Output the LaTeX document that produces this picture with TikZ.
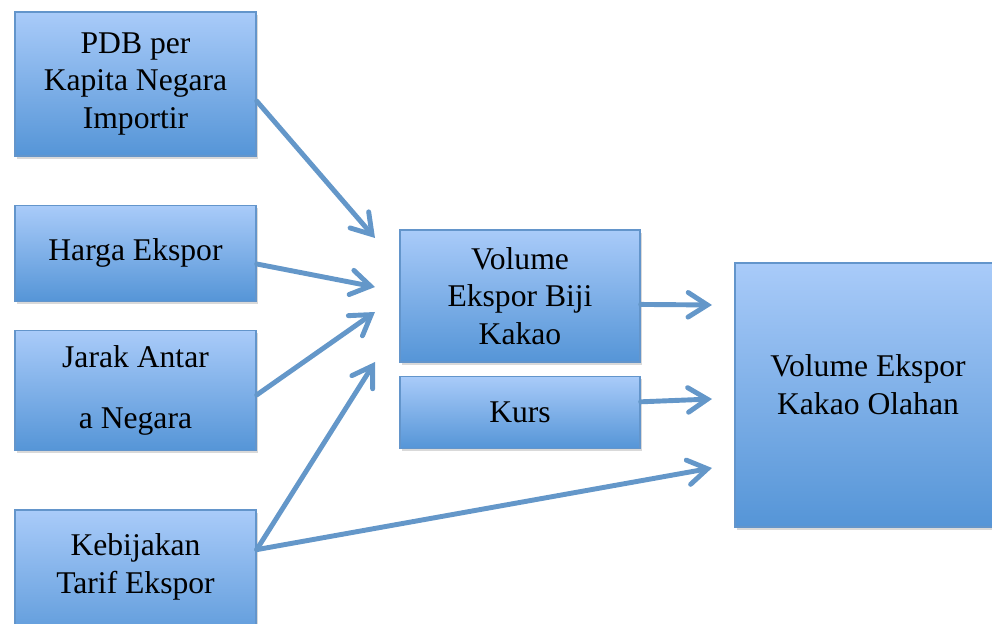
\documentclass[tikz,border=0pt]{standalone}
\usepackage{fontspec}
\setmainfont{Liberation Serif}
\usepackage{tikz}
\usetikzlibrary{positioning, shapes, arrows.meta, shadows}

\definecolor{boxtop}{HTML}{A9CBF9}
\definecolor{boxbot}{HTML}{5595D7}
\definecolor{boxline}{HTML}{6395CB}
\definecolor{arrowblue}{HTML}{6497C9}

\begin{document}
\begin{tikzpicture}[
    x=0.02cm, y=-0.02cm,
    factor/.style={rectangle, draw=boxline, line width=0.8pt, top color=boxtop, bottom color=boxbot,
        align=center, minimum width=4.82cm, font=\fontsize{18}{21.5}\selectfont,
        drop shadow={shadow xshift=1pt, shadow yshift=-1.5pt, opacity=0.3}},
    link/.style={draw=arrowblue, line width=2.8pt, line cap=round,
        -{Straight Barb[length=11pt, width=14pt, line cap=round]}}
]
\useasboundingbox (0,0) rectangle (992,624);

% Left column: the factors
\node[factor, minimum height=2.88cm] (pdb) at (135.5,84) {PDB per\\Kapita Negara\\Importir};
\node[factor, minimum height=1.92cm, below=0.96cm of pdb] (harga) {Harga Ekspor};
\node[factor, minimum height=2.4cm, below=0.56cm of harga] (jarak) {Jarak Antar\\[13pt]a Negara};
\node[factor, minimum height=2.88cm, below=1.16cm of jarak] (tarif) {Kebijakan\\Tarif Ekspor\\\mbox{}};

% Middle column
\node[factor, minimum width=4.8cm, minimum height=2.64cm] (biji) at (520,296) {Volume\\Ekspor Biji\\Kakao};
\node[factor, minimum width=4.8cm, minimum height=1.44cm, below=0.26cm of biji] (kurs) {Kurs};

% Right: the outcome
\node[factor, minimum width=5.32cm, minimum height=5.28cm] (olahan) at (868,395) {Volume Ekspor\\Kakao Olahan\\[-10pt]\mbox{}};

% Free arrow ends
\coordinate (inPdb) at (375,238);
\coordinate (inHarga) at (375,287);
\coordinate (inJarak) at (375,312);
\coordinate (inTarif) at (375,362);
\coordinate (outBiji) at (712,305);
\coordinate (outKurs) at (712,399);
\coordinate (outTarif) at (712,468);

% Arrows
\draw[link] (pdb.-8.5) -- (inPdb);
\draw[link] (harga.-5.7) -- (inHarga);
\draw[link] (jarak.-2) -- (inJarak);
\draw[link] (tarif.15.3) -- (inTarif);
\draw[link] (tarif.15.3) -- (outTarif);
\draw[link] (biji.-4.3) -- (outBiji);
\draw[link] (kurs.5.7) -- (outKurs);

\end{tikzpicture}
\end{document}
